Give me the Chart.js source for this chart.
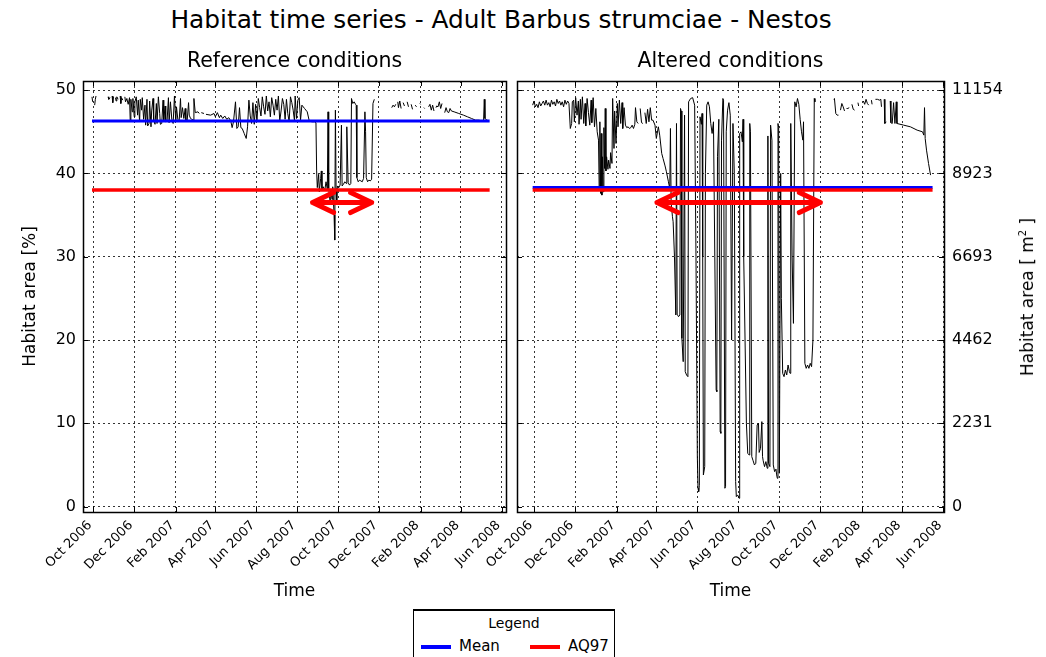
<!DOCTYPE html>
<html>
<head>
<meta charset="utf-8">
<title>Habitat time series - Adult Barbus strumciae - Nestos</title>
<script src="https://cdn.jsdelivr.net/npm/chart.js@4.4.0/dist/chart.umd.min.js"></script>
<style>
body{margin:0;background:#fff;font-family:'DejaVu Sans',sans-serif;color:#000;}
#page{position:relative;width:1046px;height:657px;overflow:hidden;background:#fff;}
#title{position:absolute;left:0;top:5px;width:1002px;text-align:center;font-size:24.8px;line-height:29px;}
#leftChart{position:absolute;left:0;top:40px;}
#rightChart{position:absolute;left:460px;top:40px;}
#rightLabel{position:absolute;left:1027px;top:297px;transform:translate(-50%,-50%) rotate(-90deg);white-space:nowrap;font-size:17px;}
#legend{position:absolute;left:413px;top:609px;width:200px;height:60px;border:1px solid #000;border-top-width:2px;background:#fff;font-size:14px;}
#legend .head{position:absolute;left:0;top:4px;width:100%;text-align:center;}
#legend .sw{position:absolute;top:34px;width:30px;height:4px;}
#legend .lb{position:absolute;top:26px;font-size:15px;}
</style>
</head>
<body>
<div id="page">
  <div id="title">Habitat time series - Adult Barbus strumciae - Nestos</div>
  <canvas id="leftChart" width="512" height="570"></canvas>
  <canvas id="rightChart" width="586" height="570"></canvas>
  <div id="rightLabel">Habitat area [ m<sup style="font-size:10px">2</sup> ]</div>
  <div id="legend">
    <div class="head">Legend</div>
    <div class="sw" style="left:7px;background:#0000ff"></div><div class="lb" style="left:45px">Mean</div>
    <div class="sw" style="left:116px;background:#ff0000"></div><div class="lb" style="left:154px">AQ97</div>
  </div>
</div>
<script>
// x values are days counted from 1 Oct 2006
const monthDays = [0, 61, 123, 182, 243, 304, 365, 426, 488, 548, 609];
const monthLabels = ['Oct 2006','Dec 2006','Feb 2007','Apr 2007','Jun 2007','Aug 2007','Oct 2007','Dec 2007','Feb 2008','Apr 2008','Jun 2008'];
const pctTicks = [0, 10, 20, 30, 40, 50];
const areaLabels = ['0', '2231', '4462', '6693', '8923', '11154'];

// reference conditions, habitat area [%]
const refDays = [
  -2, -1, 0, 2, 3, 4, 5,
  22, 23, 25, 26, 28, 29, 30, 31, 33, 34, 35, 37, 38, 40, 41, 42, 44, 45, 47, 48, 50, 52, 54,
  55, 56, 58, 59, 61, 62, 64, 66, 67, 69, 70, 72, 73, 75, 77, 78, 80, 81, 83, 84, 86, 87, 89, 90, 92, 94, 95, 97, 99, 100,
  102, 104, 105, 107, 108, 110, 112, 113, 115, 117, 119, 121, 123, 124, 126, 128, 130, 131, 133, 135, 137, 138, 140, 142, 143, 145, 147, 149,
  150, 152, 156, 158, 160, 161, 165, 166, 168, 175, 180, 182, 185, 188, 190, 193, 196, 199, 202,
  205, 207, 209, 212, 214, 216, 218, 220, 222, 225, 228, 230, 232, 234, 236, 238, 240,
  242, 244, 246, 248, 250, 252, 254, 256, 258, 260, 262, 264, 266, 268, 270, 272, 274, 276, 278, 280, 282, 284, 286, 288, 290, 292, 294, 296, 298, 300, 301, 303,
  305, 307, 309, 311, 315, 319, 322, 326, 330, 332,
  333, 334, 336, 337, 339, 340, 341, 343, 345, 347, 349, 350, 351, 353, 354, 356, 357, 359, 360, 361, 362, 363, 364, 366, 368, 370, 371, 373, 375, 377,
  378, 380, 382, 384, 385, 387, 389, 391, 392, 393, 395, 397, 399, 401, 403, 405, 406, 407, 409, 411, 413, 415, 417, 419, 420,
  445, 447, 449, 451, 452, 454, 455, 457, 459, 460, 462, 464, 465, 468, 470, 471, 474, 476, 477, 480, 482, 483, 487, 488, 489, 493, 494, 495,
  500, 502, 504, 506, 508, 509, 511, 512, 514, 516, 518, 520, 521, 524, 526, 528, 530, 532, 534,
  538, 545, 552, 558, 564, 570, 575, 580, 582, 583, 584, 587, 590
];
const refPct = [
  49.2, 48.6, null, 48.2, 48.9, 49.3, null,
  49.2, 48.9, 49.1, null, 49.3, 48.5, 49.2, null, 49.1, 48.7, 49.2, 48.9, null, 49.3, 48.4, 49.1, 48.8, null, 49.2, 48.6, 49.0, 48.3, 49.1,
  46.4, 48.9, 47.4, 49.0, 46.8, 48.6, 49.2, 47.0, 48.8, 46.2, 48.9, 47.6, 49.1, 46.5, 48.2, 45.8, 48.9, 45.7, 46.0, 48.7, 45.6, 47.5, 49.0, 46.4, 45.9, 48.4, 46.0, 49.2, 47.2, 45.9,
  46.0, 48.8, 46.3, 48.1, 46.2, 46.3, 49.1, 46.1, 48.6, 46.5, 46.0, 49.3, 46.2, 48.0, 46.5, 46.3, 49.0, 46.7, 47.9, 46.6, 47.8, 46.4, 46.4, 48.5, 47.0, 46.6, 46.5, 46.4,
  49.0, 47.3, 47.4, 47.2, null, 47.3, 47.2, null, 47.1, 47.0, 47.2, 46.8, 47.3, 46.7, 47.0, 46.6, 46.9, 46.5, 46.7,
  46.3, 45.5, 46.2, 48.6, 45.4, 45.6, 47.9, 45.5, 45.4, 44.8, 44.2, 45.6, 48.8, 46.9, 46.0, 48.5, 45.9,
  48.3, 46.2, 49.0, 47.9, 46.9, 49.2, 48.0, 47.1, 49.3, 47.5, 48.6, 46.8, 49.1, 48.2, 47.0, 48.9, 47.6, 49.3, 46.3, 47.5, 49.0, 48.3, 46.5, 48.9, 47.2, 46.2, 49.2, 48.5, 47.6, 46.3, 49.3, 46.6,
  48.8, 49.1, 46.4, 48.2, 47.8, 47.4, 46.3, 46.2, 46.2, 46.1,
  40.3, 38.3, 39.9, 37.8, 39.4, 40.3, 38.0, 38.4, 37.9, 39.0, 38.1, 47.4, 38.2, 36.6, 38.0, 36.9, 38.4, 35.0, 32.0, 47.6, 38.2, 36.4, 38.5, 38.3, 38.6, 45.8, 38.5, 38.7, 39.0, 38.8,
  45.6, 38.9, 38.6, 38.8, 49.0, 48.4, 48.6, 48.3, 48.2, 39.5, 39.0, 39.2, 39.1, 39.0, 39.4, 47.4, 45.0, 39.5, 39.0, 39.2, 39.1, 39.3, 48.4, 48.9, null,
  47.9, 48.2, 48.0, 48.3, null, 48.6, 47.9, 48.7, 47.8, null, 48.5, 48.1, null, 48.6, 48.0, null, 48.3, 47.7, null, 48.2, 48.0, null, 48.4, 48.3, null, 47.9, 47.8, null,
  48.0, 48.3, 47.6, 48.2, 47.5, null, 47.9, 48.1, 48.0, 48.6, 47.8, 48.4, null, 47.3, 47.9, 47.4, 47.3, 47.8, 47.5,
  47.4, 47.2, 47.0, 46.8, 46.6, 46.4, 46.4, 46.3, 46.4, 48.9, 46.6, 46.4, 46.3
];

// altered conditions, habitat area [%]
const altDays = [
  -2, 0, 2, 4, 6, 8, 10, 12, 14, 16, 18, 20, 22, 24, 26, 28, 30, 32, 34, 36, 38, 40, 42, 44, 46, 48, 50, 52,
  54, 56, 57, 59, 60, 62, 64, 66, 67, 69, 70, 72, 74, 76, 77, 79, 81, 83, 85, 86, 88, 90, 92, 94, 96,
  97, 98, 99, 100, 101, 102, 103, 104, 105, 106, 107, 108, 110, 111, 113, 114, 116, 117, 119, 120, 122, 124,
  125, 127, 129, 131, 132, 134, 136, 138, 140, 142, 144, 146, 148, 150, 151, 153, 155, 156, 158, 160, 162, 163, 165, 167, 169, 171, 173, 175,
  177, 180, 182, 185, 187, 190, 192, 195, 197, 200, 202, 203, 204, 206, 207, 209, 211, 212, 213, 215, 217, 218, 219, 220, 222, 224, 225, 227, 229,
  230, 233, 236, 239, 241, 243, 244, 245, 246, 247, 249, 250, 251, 252, 254, 255, 257, 259, 261, 263,
  265, 267, 269, 271, 272, 273, 275, 277, 278, 279, 281, 282, 284, 285, 286, 288, 290, 292, 294, 296,
  298, 300, 301, 303, 305, 306, 308, 310, 311, 312, 314, 316, 318, 320, 321, 322, 324, 326, 328, 330,
  332, 334, 335, 337, 339, 340, 341, 343, 345, 347, 348, 349, 351, 352, 354, 356, 358, 360, 361, 362,
  363, 364, 365, 367, 368, 370, 372, 374, 376, 378, 380, 381, 382, 384, 386, 388, 390, 392, 394, 396,
  398, 400, 401, 403, 405, 407, 409, 411, 413, 415, 417, 418, 419,
  446, 447, 449, 451, 453, 454, 456, 458, 460, 462, 463, 465, 467, 469, 470, 473, 475, 477, 478, 482, 483, 484,
  490, 492, 494, 496, 498, 499, 502, 503, 504, 508, 511, 514, 516, 517, 518, 521, 522, 524, 525,
  530, 531, 533, 535, 537, 539, 540, 550, 560, 570, 578, 580, 581, 582, 584, 587, 590
];
const altPct = [
  48.2, 48.7, 48.0, 48.3, 47.9, 48.6, 48.1, 48.4, 48.7, 48.2, 48.8, 48.2, 48.5, 48.0, 48.8, 48.3, 48.6, 48.1, 48.9, 48.4, 48.7, 48.2, 48.6, 48.0, 48.8, 48.3, 48.7, 48.4,
  45.4, 46.0, 48.6, 48.8, 46.2, 49.1, 47.0, 48.7, 45.9, 48.9, 46.5, 49.2, 46.0, 48.4, 45.7, 49.0, 47.3, 45.8, 48.8, 46.1, 49.1, 45.6, 47.8, 45.0, 44.0,
  38.0, 46.2, 37.6, 44.8, 37.4, 42.0, 37.8, 45.5, 40.6, 47.8, 40.3, 42.0, 40.5, 41.6, 40.6, 42.5, 41.2, 49.0, 43.0, 47.5, 43.6, 48.4,
  45.6, 48.8, 46.0, 48.5, 45.4, 47.9, 45.8, 45.5, 45.6, 45.4, 45.5, 45.8, 45.4, 45.9, 47.9, 46.2, 46.0, null, 47.8, 46.1, 46.0, null, 47.3, 46.0, 47.7, 46.2, 47.9, 46.4,
  46.4, 45.8, 44.2, 45.6, 44.6, 42.4, 41.8, 40.9, 40.2, 39.0, 38.2, 45.4, 36.5, 34.8, 34.2, 30.0, 23.0, 46.0, 23.1, 22.8, 23.0, 47.8, 47.5, 20.2, 17.4, 47.0, 16.2, 15.8, 15.6,
  48.6, 49.0, 49.1, 48.2, 30.0, 6.0, 2.2, 1.8, 2.5, 46.8, 45.9, 47.2, 30.0, 3.8, 4.8, 40.0, 48.2, 48.6, 48.0, 46.0,
  44.8, 46.2, 30.0, 14.0, 13.8, 42.0, 46.5, 9.0, 8.8, 44.0, 49.0, 48.8, 2.2, 2.4, 45.0, 47.6, 48.5, 47.0, 20.0, 46.0,
  40.0, 3.0, 1.2, 1.4, 1.0, 44.8, 45.0, 43.8, 46.5, 30.0, 20.0, 10.0, 6.4, 6.2, 46.0, 45.0, 6.0, 5.5, 5.0, 5.2,
  9.8, 10.0, 6.5, 7.0, 10.2, 6.0, 5.5, 4.8, 5.4, 4.6, 44.5, 5.2, 4.8, 45.8, 44.0, 5.0, 4.2, 4.5, 3.8, 3.4,
  46.0, 45.5, 4.0, 40.0, 25.0, 16.0, 15.6, 16.4, 15.8, 17.0, 16.2, 16.0, 46.0, 30.0, 22.0, 48.6, 48.0, 49.0, 48.3, 46.5,
  45.0, 44.0, 46.2, 17.2, 16.6, 17.0, 16.6, 17.2, 16.8, 20.0, 49.0, 48.6, null,
  48.9, 49.0, 47.2, 47.0, 47.0, null, 47.6, 48.4, 48.0, 47.5, null, 47.8, 47.8, 47.9, null, 48.3, 47.7, 47.6, null, 48.5, 48.1, null,
  48.7, 48.3, 48.9, 48.4, 48.2, null, 48.8, 48.3, null, 48.9, 48.9, 48.8, 48.9, 48.0, null, 48.9, 46.0, 46.2, null,
  48.7, 46.1, 46.0, 48.5, 46.0, 48.6, 46.0, 45.8, 45.6, 45.2, 45.0, 44.6, 47.9, 44.2, 42.8, 41.2, 39.8
];

const refMean = 46.3, altMean = 38.3, aq97 = 38.0;
const refSpan = [-2, 591];
const altSpan = [-2, 593];
const arrowPct = 36.5;
const refArrowDays = [327, 415];
const altArrowDays = [183, 426];

Chart.defaults.font.family = "'DejaVu Sans', sans-serif";
Chart.defaults.color = '#000';

// frame, inward tick marks, rotated month labels and panel title
const framePlugin = {
  id: 'frame',
  afterDraw(chart, args, opts) {
    const a = chart.chartArea, ctx = chart.ctx;
    const xs = chart.scales.x, ys = chart.scales.y;
    ctx.save();
    ctx.strokeStyle = '#000';
    ctx.lineWidth = 1;
    ctx.beginPath();
    xs.ticks.forEach(function(t){
      const px = Math.round(xs.getPixelForValue(t.value)) + 0.5;
      ctx.moveTo(px, a.bottom); ctx.lineTo(px, a.bottom - 5);
      ctx.moveTo(px, a.top); ctx.lineTo(px, a.top + 5);
    });
    ys.ticks.forEach(function(t){
      const py = Math.round(ys.getPixelForValue(t.value)) + 0.5;
      ctx.moveTo(a.left, py); ctx.lineTo(a.left + 5, py);
      ctx.moveTo(a.right, py); ctx.lineTo(a.right - 5, py);
    });
    ctx.stroke();
    ctx.lineWidth = 1.5;
    ctx.strokeRect(Math.round(a.left) + 0.5, Math.round(a.top) + 0.5, Math.round(a.right - a.left), Math.round(a.bottom - a.top));

    ctx.fillStyle = '#000';
    ctx.font = "13px 'DejaVu Sans'";
    ctx.textAlign = 'center';
    ctx.textBaseline = 'middle';
    xs.ticks.forEach(function(t, i){
      const label = monthLabels[i];
      const side = (ctx.measureText(label).width + 15) / Math.SQRT2;
      const px = xs.getPixelForValue(t.value);
      ctx.save();
      ctx.translate(px + 2 - side / 2, a.bottom + 6 + side / 2);
      ctx.rotate(-Math.PI / 4);
      ctx.fillText(label, 0, 0);
      ctx.restore();
    });

    ctx.font = "20.5px 'DejaVu Sans'";
    ctx.fillText(opts.title, (a.left + a.right) / 2, a.top - 19);
    ctx.restore();
  }
};

const arrowPlugin = {
  id: 'arrow',
  afterDatasetsDraw(chart, args, opts) {
    const ctx = chart.ctx, xs = chart.scales.x, ys = chart.scales.y;
    const x1 = xs.getPixelForValue(opts.days[0]);
    const x2 = xs.getPixelForValue(opts.days[1]);
    const y = ys.getPixelForValue(opts.level);
    ctx.save();
    ctx.strokeStyle = '#ff0000';
    ctx.lineWidth = 5;
    ctx.lineCap = 'round';
    ctx.lineJoin = 'round';
    ctx.beginPath();
    ctx.moveTo(x1, y); ctx.lineTo(x2, y);
    ctx.moveTo(x1 + 21, y - 10); ctx.lineTo(x1, y); ctx.lineTo(x1 + 21, y + 10);
    ctx.moveTo(x2 - 21, y - 10); ctx.lineTo(x2, y); ctx.lineTo(x2 - 21, y + 10);
    ctx.stroke();
    ctx.restore();
  }
};

function toPoints(days, vals){
  return days.map(function(d, i){ return {x: d, y: vals[i]}; });
}

function levelLine(span, level){
  return [{x: span[0], y: level}, {x: span[1], y: level}];
}

function buildDatasets(days, vals, span, mean){
  return [
    {data: toPoints(days, vals), borderColor: '#000', borderWidth: 1, pointRadius: 0, tension: 0, spanGaps: false, order: 3},
    {data: levelLine(span, mean), borderColor: '#0000ff', borderWidth: 3, pointRadius: 0, order: 2},
    {data: levelLine(span, aq97), borderColor: '#ff0000', borderWidth: 3.5, pointRadius: 0, order: 1}
  ];
}

function xScale(min, max){
  return {
    type: 'linear', min: min, max: max,
    afterBuildTicks: function(s){ s.ticks = monthDays.map(function(v){ return {value: v}; }); },
    afterFit: function(s){ s.height = 98; s.paddingLeft = 0; s.paddingRight = 0; },
    ticks: {display: false},
    grid: {color: '#000', lineWidth: 0.8, drawTicks: false},
    border: {display: false, dash: [2, 3]},
    title: {display: true, text: 'Time', font: {size: 17}, padding: {top: 0, bottom: 8}}
  };
}

function pctTicksFn(s){ s.ticks = pctTicks.map(function(v){ return {value: v}; }); }

const yMin = -0.65, yMax = 51.1;

new Chart(document.getElementById('leftChart'), {
  type: 'line',
  data: {datasets: buildDatasets(refDays, refPct, refSpan, refMean)},
  options: {
    responsive: false, animation: false, events: [],
    layout: {padding: {left: 0, right: 6, top: 41, bottom: 0}},
    scales: {
      x: xScale(-15.4, 615.4),
      y: {
        type: 'linear', min: yMin, max: yMax,
        afterBuildTicks: pctTicksFn,
        afterFit: function(s){ s.width = 83; s.paddingTop = 0; s.paddingBottom = 0; },
        ticks: {padding: 7, font: {size: 16}},
        grid: {color: '#000', lineWidth: 0.8, drawTicks: false},
        border: {display: false, dash: [2, 3]},
        title: {display: true, text: 'Habitat area [%]', font: {size: 17}, padding: {top: 20, bottom: 0}}
      }
    },
    plugins: {
      legend: {display: false},
      tooltip: {enabled: false},
      frame: {title: 'Reference conditions'},
      arrow: {days: refArrowDays, level: arrowPct}
    }
  },
  plugins: [framePlugin, arrowPlugin]
});

new Chart(document.getElementById('rightChart'), {
  type: 'line',
  data: {datasets: buildDatasets(altDays, altPct, altSpan, altMean)},
  options: {
    responsive: false, animation: false, events: [],
    layout: {padding: {left: 0, right: 0, top: 41, bottom: 0}},
    scales: {
      x: xScale(-25.3, 610),
      y: {
        type: 'linear', min: yMin, max: yMax,
        afterBuildTicks: pctTicksFn,
        afterFit: function(s){ s.width = 57; s.paddingTop = 0; s.paddingBottom = 0; },
        ticks: {display: false},
        grid: {color: '#000', lineWidth: 0.8, drawTicks: false},
        border: {display: false, dash: [2, 3]}
      },
      y2: {
        type: 'linear', position: 'right', min: yMin, max: yMax,
        afterBuildTicks: pctTicksFn,
        afterFit: function(s){ s.width = 102; s.paddingTop = 0; s.paddingBottom = 0; },
        ticks: {padding: 8, font: {size: 16}, callback: function(v, i){ return areaLabels[i]; }},
        grid: {display: false, drawTicks: false},
        border: {display: false}
      }
    },
    plugins: {
      legend: {display: false},
      tooltip: {enabled: false},
      frame: {title: 'Altered conditions'},
      arrow: {days: altArrowDays, level: arrowPct}
    }
  },
  plugins: [framePlugin, arrowPlugin]
});
</script>
</body>
</html>
